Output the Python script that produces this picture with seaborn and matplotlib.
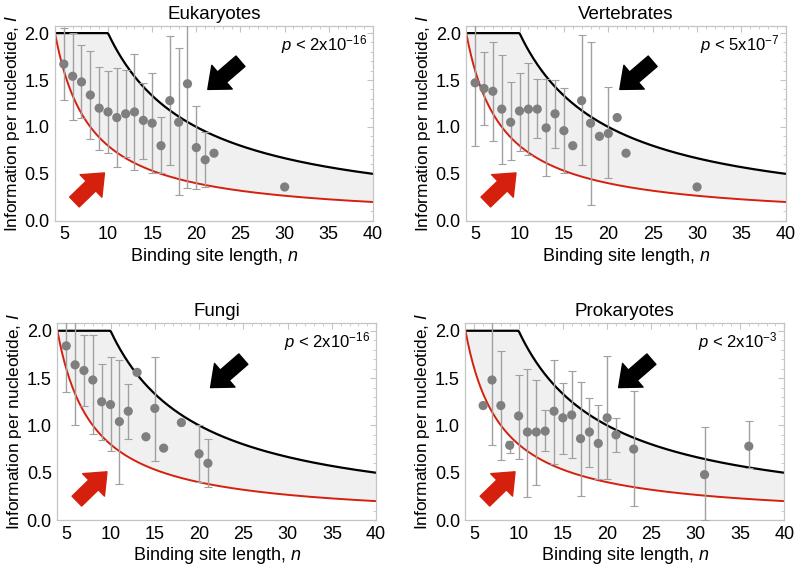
import numpy as np
import matplotlib
matplotlib.use("Agg")
import matplotlib.pyplot as plt
from matplotlib.ticker import MultipleLocator
import seaborn as sns

# ---- data ----
titles = ["Eukaryotes", "Vertebrates", "Fungi", "Prokaryotes"]
pvals = [r"$p$ < 2x10$^{-16}$", r"$p$ < 5x10$^{-7}$",
         r"$p$ < 2x10$^{-16}$", r"$p$ < 2x10$^{-3}$"]

euk_n = [5, 6, 7, 8, 9, 10, 11, 12, 13, 14, 15, 16, 17, 18, 19, 20, 21, 22, 30]
euk_i = [1.67, 1.54, 1.48, 1.34, 1.20, 1.16, 1.10, 1.14, 1.16, 1.07, 1.04, 0.80,
         1.28, 1.05, 1.46, 0.78, 0.65, 0.72, 0.36]
euk_lo = [1.29, 1.07, 1.09, 0.87, 0.75, 0.72, 0.57, 0.68, 0.54, 0.66, 0.51, 0.51,
          0.59, 0.27, 0.35, 0.34, 0.36, np.nan, np.nan]
euk_hi = [2.05, 2.00, 1.87, 1.81, 1.64, 1.60, 1.63, 1.61, 1.78, 1.47, 1.57, 1.11,
          1.97, 1.84, 2.20, 1.22, 0.95, np.nan, np.nan]

vert_n = [5, 6, 7, 8, 9, 10, 11, 12, 13, 14, 15, 16, 17, 18, 19, 20, 21, 22, 30]
vert_i = [1.47, 1.41, 1.38, 1.19, 1.05, 1.17, 1.19, 1.19, 0.99, 1.14, 0.96, 0.80,
          1.28, 1.04, 0.90, 0.93, 1.10, 0.72, 0.36]
vert_lo = [0.80, 1.02, 0.85, 0.60, 0.65, 0.74, 0.70, 0.88, 0.48, 0.78, 0.51, np.nan,
           0.59, 0.17, np.nan, 0.46, np.nan, np.nan, np.nan]
vert_hi = [2.20, 1.80, 1.90, 1.77, 1.48, 1.58, 1.68, 1.51, 1.51, 1.50, 1.42, np.nan,
           1.98, 1.90, np.nan, 1.43, np.nan, np.nan, np.nan]

fungi_n = [5, 6, 7, 8, 9, 10, 11, 12, 13, 14, 15, 16, 18, 20, 21]
fungi_i = [1.84, 1.64, 1.58, 1.48, 1.25, 1.22, 1.04, 1.15, 1.56, 0.88, 1.18, 0.76,
           1.03, 0.70, 0.60]
fungi_lo = [1.35, 1.00, 1.20, 0.91, 0.85, 0.73, 0.38, 0.86, np.nan, np.nan, 0.62,
            np.nan, np.nan, 0.40, 0.35]
fungi_hi = [2.20, 2.20, 1.95, 1.95, 1.65, 1.72, 1.69, 1.44, np.nan, np.nan, 1.72,
            np.nan, np.nan, 1.00, 0.86]

prok_n = [6, 7, 8, 9, 10, 11, 12, 13, 14, 15, 16, 17, 18, 19, 20, 21, 23, 31, 36]
prok_i = [1.21, 1.48, 1.21, 0.79, 1.10, 0.93, 0.93, 0.94, 1.15, 1.08, 1.11, 0.86,
          0.93, 0.81, 1.08, 0.90, 0.75, 0.48, 0.78]
prok_lo = [np.nan, 0.79, 0.63, 0.71, 0.65, 0.24, 0.37, 0.73, 0.59, 0.70, 0.66, 0.25,
           0.56, 0.43, 0.43, 0.72, 0.15, 0.0, 0.55]
prok_hi = [np.nan, 2.20, 1.79, 0.84, 1.53, 1.60, 1.48, 1.16, 1.69, 1.45, 1.57, 1.46,
           1.29, 1.22, 1.73, 1.08, 1.36, 0.98, 1.05]

panels = [(euk_n, euk_i, euk_lo, euk_hi), (vert_n, vert_i, vert_lo, vert_hi),
          (fungi_n, fungi_i, fungi_lo, fungi_hi), (prok_n, prok_i, prok_lo, prok_hi)]

# theoretical bounds: upper = min(2, 20/n), lower = 8/n
upper_c = 20.0
lower_c = 8.0
i_max = 2.0

sns.set_theme(style="white")
plt.rcParams['font.family'] = ['Liberation Sans', 'DejaVu Sans']
plt.rcParams['mathtext.fontset'] = 'custom'
plt.rcParams['mathtext.it'] = 'Liberation Sans:italic'
plt.rcParams['mathtext.rm'] = 'Liberation Sans'
plt.rcParams['text.color'] = 'black'
plt.rcParams['axes.labelcolor'] = 'black'
plt.rcParams['xtick.labelcolor'] = 'black'
plt.rcParams['ytick.labelcolor'] = 'black'

fig = plt.figure(figsize=(7.97, 5.69), dpi=100)
boxes = [[0.069, 0.612, 0.399, 0.343], [0.585, 0.612, 0.401, 0.343],
         [0.072, 0.086, 0.400, 0.346], [0.584, 0.086, 0.400, 0.346]]

frame = "#c4c4c4"
pt_col = "#7f7f7f"
red = "#d6200e"

nn = np.linspace(4, 40, 400)
top = np.minimum(i_max, upper_c / nn)
bot = lower_c / nn

arrow = "simple,head_width=1.25,head_length=0.75,tail_width=0.55"

for k, (n, val, lo, hi) in enumerate(panels):
    ax = fig.add_axes(boxes[k])
    n = np.array(n, float); val = np.array(val); lo = np.array(lo); hi = np.array(hi)

    ax.fill_between(nn, bot, top, color="#f0f0f0", lw=0, zorder=1)
    ax.plot(nn, top, color="black", lw=1.6, zorder=2)
    ax.plot(nn, bot, color=red, lw=1.4, zorder=2)

    has = ~np.isnan(lo)
    ax.errorbar(n[has], val[has], yerr=[val[has] - lo[has], hi[has] - val[has]],
                fmt="none", ecolor="#a0a0a0", elinewidth=1.0, capsize=3,
                capthick=0.8, zorder=3)
    sns.scatterplot(x=n, y=val, ax=ax, color=pt_col, s=44, edgecolor="none",
                    zorder=4, legend=False)

    ax.annotate("", xy=(21.3, 1.40), xytext=(25.0, 1.70),
                arrowprops=dict(arrowstyle=arrow, color="black", shrinkA=0,
                                shrinkB=0, mutation_scale=18), zorder=5)
    ax.annotate("", xy=(9.6, 0.51), xytext=(6.2, 0.20),
                arrowprops=dict(arrowstyle=arrow, color=red, shrinkA=0,
                                shrinkB=0, mutation_scale=18), zorder=5)

    ax.text(0.98, 0.905, pvals[k], transform=ax.transAxes, ha="right", va="center",
            fontsize=12)

    ax.set_xlim(4, 40)
    ax.set_ylim(0, 2.08)
    ax.xaxis.set_major_locator(MultipleLocator(5))
    ax.xaxis.set_minor_locator(MultipleLocator(1))
    ax.yaxis.set_major_locator(MultipleLocator(0.5))
    ax.yaxis.set_minor_locator(MultipleLocator(0.1))
    ax.yaxis.set_major_formatter(matplotlib.ticker.FormatStrFormatter("%.1f"))
    ax.tick_params(which="both", direction="in", top=True, right=True, color=frame,
                   labelsize=13, pad=4)
    ax.tick_params(which="major", length=4, width=0.8)
    ax.tick_params(which="minor", length=2, width=0.6)
    for s in ax.spines.values():
        s.set_color(frame)
        s.set_linewidth(0.9)

    ax.set_title(titles[k], fontsize=13.5, pad=5)
    ax.set_xlabel("Binding site length, $n$", fontsize=13, labelpad=2)
    ax.set_ylabel("Information per nucleotide, $I$", fontsize=12.5, labelpad=2)

fig.savefig("out.png", dpi=100)
